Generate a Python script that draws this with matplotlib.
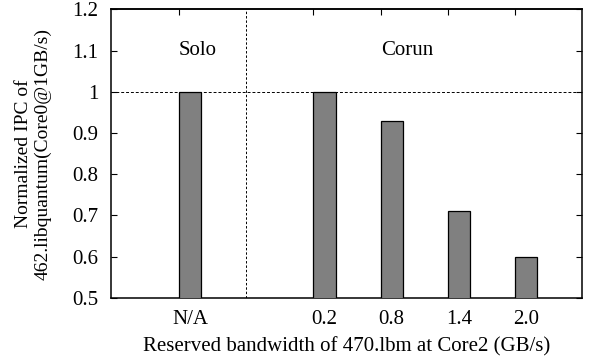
import matplotlib
matplotlib.use("Agg")
import matplotlib.pyplot as plt
from matplotlib.ticker import FuncFormatter

plt.rcParams["font.family"] = ["Liberation Serif", "DejaVu Serif"]
plt.rcParams["font.size"] = 15

# data
labels = ["N/A", "0.2", "0.8", "1.4", "2.0"]
positions = [1, 3, 4, 5, 6]
ipc = [1.0, 1.0, 0.93, 0.71, 0.60]
group_names = ["Solo", "Corun"]
group_x = [1.12, 4.23]

width = 0.33

fig = plt.figure(figsize=(5.89, 3.6), dpi=100)
ax = fig.add_axes([0.1885, 0.173, 0.7995, 0.801])

ax.bar(positions, ipc, width=width, color="#808080", edgecolor="black",
       linewidth=0.9, zorder=3)

ax.axhline(1.0, color="black", linestyle=(0, (3, 2)), linewidth=0.7, zorder=2)
ax.axvline(1.83, color="black", linestyle=(0, (2.5, 2)), linewidth=0.7, zorder=2)
for name, gx in zip(group_names, group_x):
    ax.text(gx, 1.1, name, ha="center", va="center", fontsize=15)

ax.set_xlim(-0.175, 6.83)
ax.set_ylim(0.5, 1.2)
ax.set_yticks([0.5, 0.6, 0.7, 0.8, 0.9, 1.0, 1.1, 1.2])
ax.yaxis.set_major_formatter(FuncFormatter(lambda v, p: "%g" % round(v, 2)))
ax.set_xticks(positions)
ax.set_xticklabels(labels)
ax.tick_params(axis="x", length=0, pad=9, labelsize=15)
ax.tick_params(axis="y", direction="in", length=4, width=0.8, right=True,
               pad=9, labelsize=15)

# mirror ticks along the top edge sit on the bar edges
top = ax.secondary_xaxis("top")
top.set_xticks([p - width / 2 for p in positions])
top.tick_params(direction="in", length=4, width=0.8, labeltop=False)

for side in ["left", "right", "top", "bottom"]:
    ax.spines[side].set_linewidth(1.1)
top.spines["top"].set_linewidth(1.1)

ax.set_xlabel("Reserved bandwidth of 470.lbm at Core2 (GB/s)", fontsize=15,
              labelpad=6)
ax.set_ylabel("Normalized IPC of\n462.libquantum(Core0@1GB/s)", fontsize=14,
              labelpad=15, linespacing=1.15)

fig.savefig("out.png", dpi=100)
